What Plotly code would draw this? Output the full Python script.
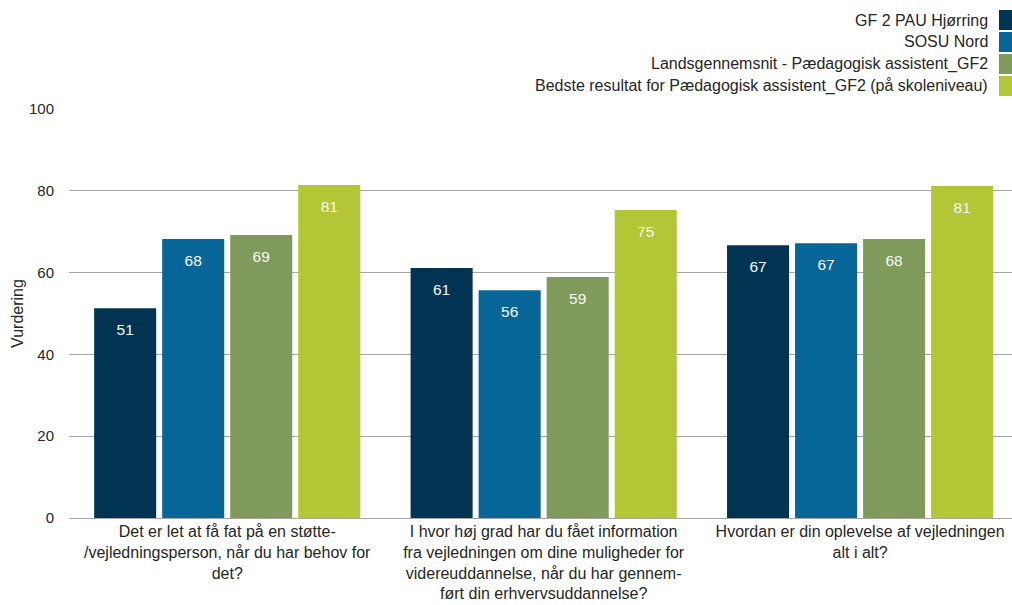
import plotly.graph_objects as go

categories = [
    "Det er let at få fat på en støtte-<br>/vejledningsperson, når du har behov for<br>det?",
    "I hvor høj grad har du fået information<br>fra vejledningen om dine muligheder for<br>videreuddannelse, når du har gennem-<br>ført din erhvervsuddannelse?",
    "Hvordan er din oplevelse af vejledningen<br>alt i alt?",
]
series_names = [
    "GF 2 PAU Hjørring",
    "SOSU Nord",
    "Landsgennemsnit - Pædagogisk assistent_GF2",
    "Bedste resultat for Pædagogisk assistent_GF2 (på skoleniveau)",
]
values_hjorring = [51.3, 61.1, 66.7]
values_sosu = [68.2, 55.7, 67.2]
values_lands = [69.2, 58.9, 68.2]
values_best = [81.4, 75.3, 81.2]
colors = ["#003452", "#086597", "#7F9A5A", "#B3C635"]
y_ticks = [0, 20, 40, 60, 80, 100]

FONT = "Liberation Sans"
TXT = "#262626"
W, H = 1012, 605
L, R, T, B = 69, 0, 109, 87
PW, PH = W - L - R, H - T - B

fig = go.Figure()
for name, vals, col in zip(series_names, [values_hjorring, values_sosu, values_lands, values_best], colors):
    fig.add_trace(go.Bar(
        name=name, x=list(range(len(categories))), y=vals, marker_color=col,
        marker_line_width=0,
        texttemplate="<span style='font-size:4px'>&nbsp;</span><br>%{y:.0f}",
        textposition="inside", insidetextanchor="end",
        textfont=dict(color="#F8F8F8", size=15.5, family=FONT), textangle=0,
        showlegend=False, hoverinfo="skip",
    ))

# legend: right-aligned text with swatches on the right
for i, (name, col) in enumerate(zip(series_names, colors)):
    yc = 20 + i * 22
    fig.add_annotation(xref="paper", yref="paper", x=(990 - L) / PW, y=1 + (T - yc) / PH,
                       text=name, showarrow=False, xanchor="right", yanchor="middle",
                       font=dict(family=FONT, size=16, color=TXT))
    fig.add_shape(type="rect", xref="paper", yref="paper",
                  x0=(999 - L) / PW, x1=(1014 - L) / PW,
                  y0=1 + (T - (yc - 10)) / PH, y1=1 + (T - (yc + 10)) / PH,
                  fillcolor=col, line_width=0)

fig.update_layout(
    width=W, height=H,
    margin=dict(l=L, r=R, t=T, b=B),
    barmode="group", bargap=0.14, bargroupgap=0.088,
    plot_bgcolor="white", paper_bgcolor="white",
    font=dict(family=FONT, size=15, color=TXT),
    xaxis=dict(tickmode="array", tickvals=list(range(len(categories))), ticktext=categories,
               range=[-0.5, 2.48], showgrid=False, showline=False, ticks="",
               ticklabelstandoff=2, automargin=False,
               tickfont=dict(size=16, family=FONT, color=TXT)),
    yaxis=dict(range=[0, 100], tickvals=y_ticks, showgrid=True, gridcolor="#A6A6A6", gridwidth=1,
               zeroline=True, zerolinecolor="#A6A6A6", zerolinewidth=1,
               ticks="", ticklabelstandoff=14, automargin=False,
               title=dict(text="Vurdering", font=dict(size=16, family=FONT, color=TXT), standoff=1),
               tickfont=dict(size=15, family=FONT, color=TXT)),
)

fig.write_html("out.html", config={"displayModeBar": False},
               post_script="document.body.style.margin='0';")
